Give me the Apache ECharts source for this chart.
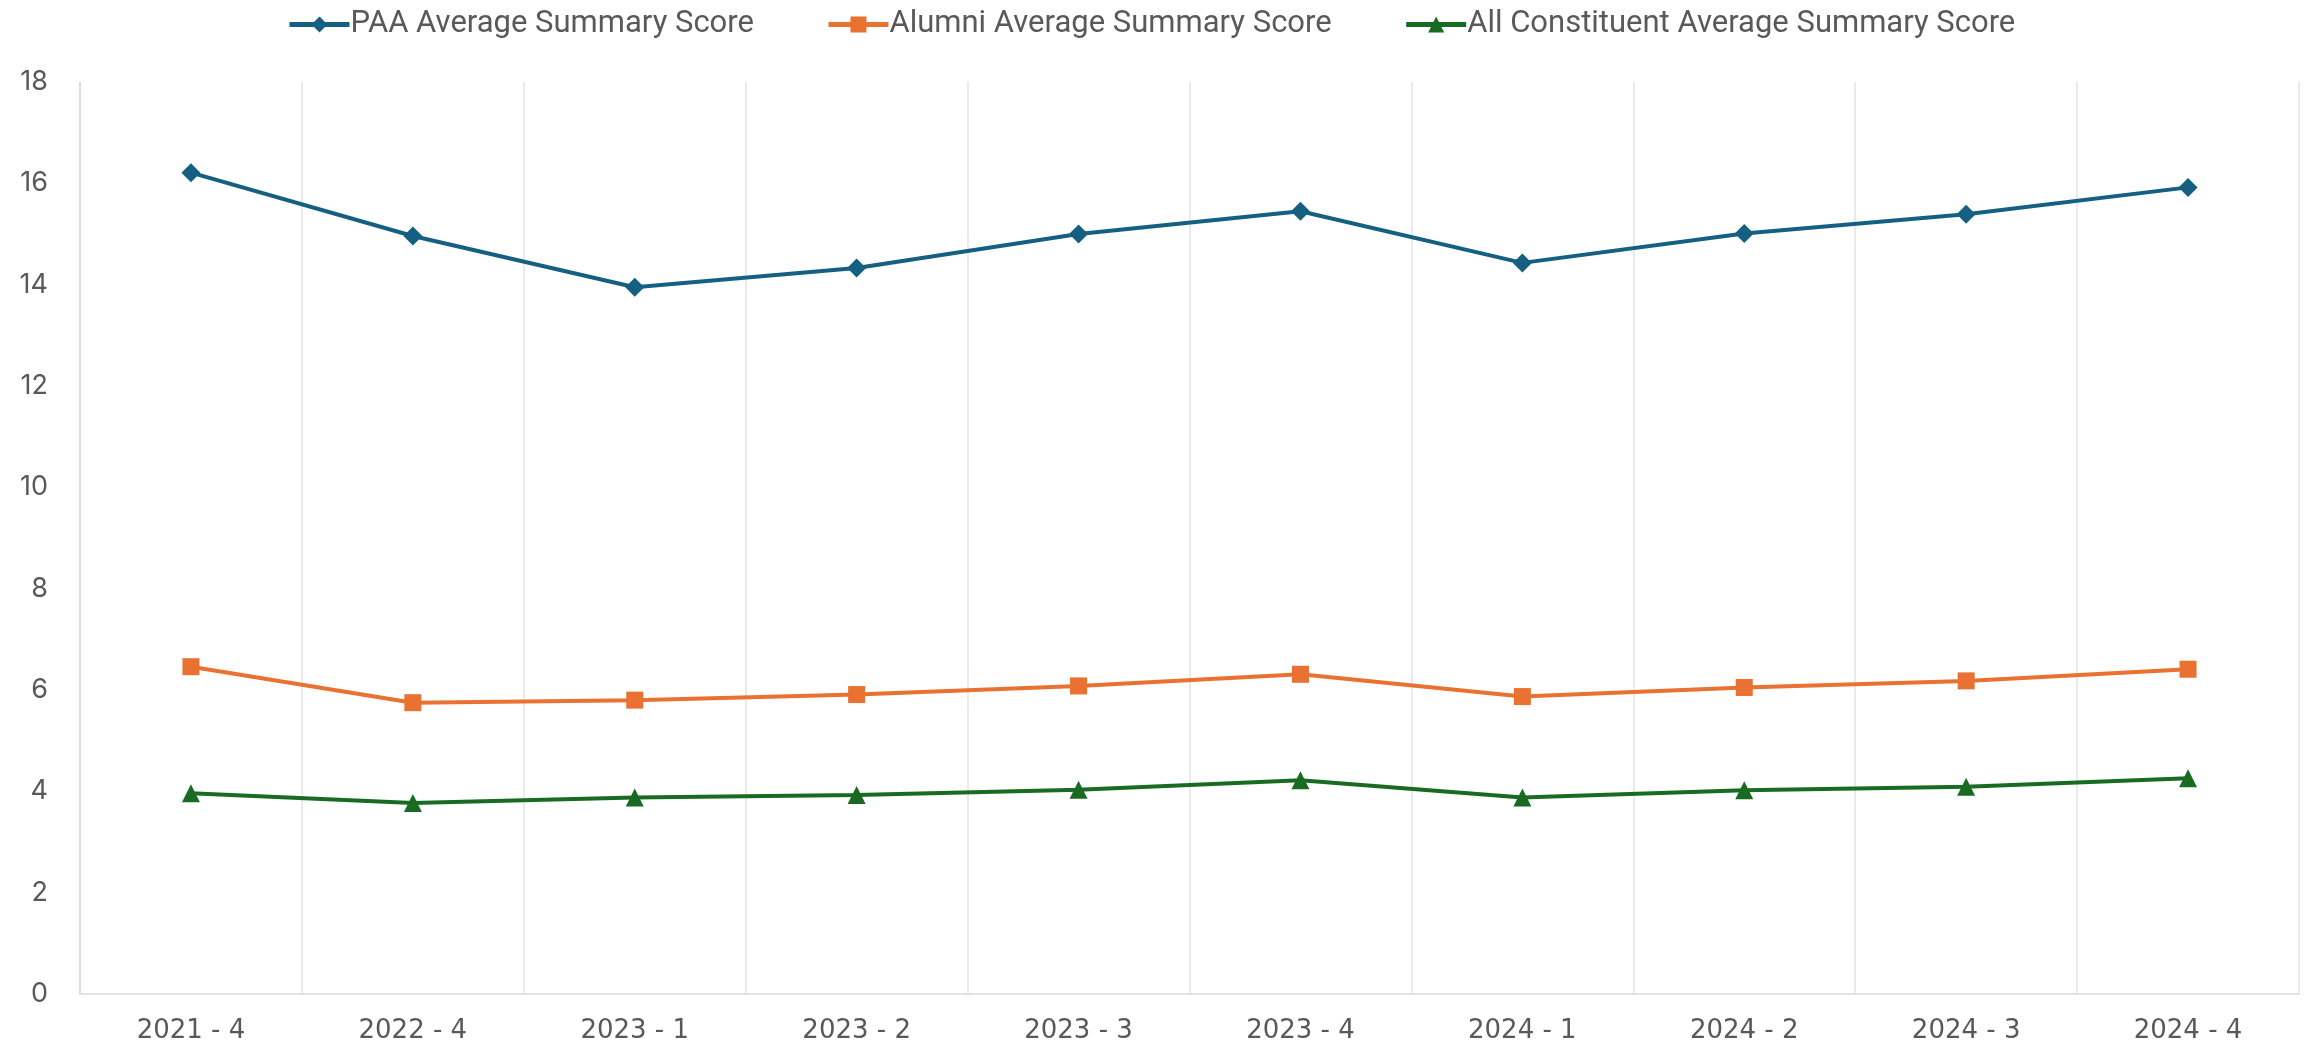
<!DOCTYPE html>
<html>
<head>
<meta charset="utf-8">
<script src="https://cdn.jsdelivr.net/npm/echarts@6/dist/echarts.min.js"></script>
<style>
  html, body { margin: 0; padding: 0; background: #fff; }
  #chart { width: 2313px; height: 1049px; }
</style>
</head>
<body>
<div id="chart"></div>
<script>
// quarters on the x axis
const quarters = ['2021 - 4', '2022 - 4', '2023 - 1', '2023 - 2', '2023 - 3', '2023 - 4', '2024 - 1', '2024 - 2', '2024 - 3', '2024 - 4']

// values
const paaScores = [16.21, 14.96, 13.95, 14.33, 15.0, 15.45, 14.43, 15.01, 15.39, 15.92]
const alumniScores = [6.46, 5.75, 5.8, 5.91, 6.08, 6.31, 5.87, 6.05, 6.18, 6.41]
const allScores = [3.96, 3.77, 3.88, 3.93, 4.03, 4.22, 3.88, 4.02, 4.09, 4.26]

const seriesNames = ['PAA Average Summary Score', 'Alumni Average Summary Score', 'All Constituent Average Summary Score']

const labelColor = '#595959'
const gridColor = '#d9d9d9'

const chart = echarts.init(document.getElementById('chart'))

function lineSeries(name, data, color, symbol, size) {
  return {
    name, type: 'line', data,
    symbol, symbolSize: size,
    lineStyle: { color, width: 4 },
    itemStyle: { color },
    emphasis: { disabled: true }
  }
}

chart.setOption({
  animation: false,
  legend: {
    data: seriesNames,
    left: 282, top: 4,
    itemWidth: 60, itemHeight: 20, itemGap: 72,
    lineStyle: { width: 5 },
    textStyle: { color: labelColor, fontSize: 31, fontFamily: 'Roboto, sans-serif', padding: [0, 0, 0, -4] }
  },
  grid: { left: 80, right: 14, top: 82, bottom: 55 },
  xAxis: {
    type: 'category', data: quarters, boundaryGap: true,
    axisLine: { lineStyle: { color: gridColor, width: 1.5 } },
    axisTick: { show: false },
    axisLabel: { color: labelColor, fontSize: 26, fontFamily: 'DejaVu Sans, sans-serif', margin: 24 },
    splitLine: { show: true, lineStyle: { color: '#e3e3e3', width: 1.5 } }
  },
  yAxis: {
    type: 'value', min: 0, max: 18, interval: 2,
    axisLine: { show: true, lineStyle: { color: gridColor, width: 1.5 } },
    axisTick: { show: false },
    axisLabel: { color: labelColor, fontSize: 27, fontFamily: 'Inter, sans-serif', margin: 32 },
    splitLine: { show: false }
  },
  series: [
    lineSeries(seriesNames[0], paaScores, '#156082', 'diamond', 19),
    lineSeries(seriesNames[1], alumniScores, '#E97132', 'rect', 17),
    lineSeries(seriesNames[2], allScores, '#196B24', 'triangle', 18)
  ]
})
</script>
</body>
</html>
